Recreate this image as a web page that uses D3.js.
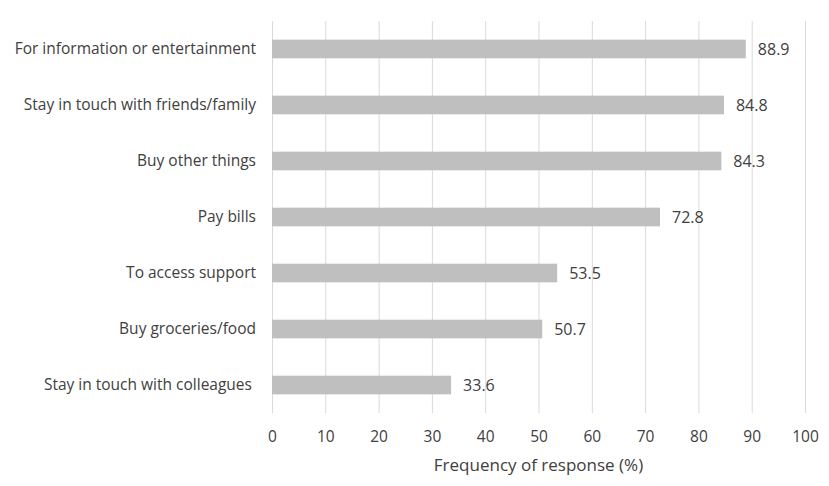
<!DOCTYPE html>
<html>
<head>
<meta charset="utf-8">
<script src="https://cdn.jsdelivr.net/npm/d3@7"></script>
<style>
  body { margin: 0; background: #fff; }
  text { font-family: "Open Sans", "Noto Sans", sans-serif; fill: #404040; white-space: pre; }
</style>
</head>
<body>
<svg id="chart" width="829" height="486"></svg>
<script>
'use strict';

const categories = [
  'For information or entertainment',
  'Stay in touch with friends/family',
  'Buy other things',
  'Pay bills',
  'To access support',
  'Buy groceries/food',
  'Stay in touch with colleagues ',
];
const values = [88.9, 84.8, 84.3, 72.8, 53.5, 50.7, 33.6];
const xTicks = [0, 10, 20, 30, 40, 50, 60, 70, 80, 90, 100];
const xTitle = 'Frequency of response (%)';

const margin = { top: 21, right: 24, bottom: 73, left: 272 };
const width = 829;
const height = 486;

const svg = d3.select('#chart');

const x = d3.scaleLinear()
  .domain([0, 100])
  .range([margin.left, width - margin.right]);

const y = d3.scaleBand()
  .domain(categories)
  .range([margin.top, height - margin.bottom])
  .paddingInner(0.667)
  .paddingOuter(0.333);

// vertical gridlines
svg.append('g')
  .selectAll('line')
  .data(xTicks)
  .join('line')
  .attr('x1', (d) => x(d) + 0.5)
  .attr('x2', (d) => x(d) + 0.5)
  .attr('y1', margin.top)
  .attr('y2', height - margin.bottom)
  .attr('stroke', '#d9d9d9')
  .attr('stroke-width', 1);

// bars
const data = categories.map((c, i) => ({ key: c, value: values[i] }));

svg.append('g')
  .selectAll('rect')
  .data(data)
  .join('rect')
  .attr('x', x(0))
  .attr('y', (d) => y(d.key))
  .attr('width', (d) => x(d.value) - x(0))
  .attr('height', y.bandwidth())
  .attr('fill', '#bfbfbf');

// value labels
svg.append('g')
  .selectAll('text')
  .data(data)
  .join('text')
  .attr('x', (d) => x(d.value) + 12)
  .attr('y', (d) => y(d.key) + y.bandwidth() / 2)
  .attr('dy', '0.35em')
  .attr('font-size', 16)
  .text((d) => d.value.toFixed(1));

// category labels
svg.append('g')
  .selectAll('text')
  .data(categories)
  .join('text')
  .attr('x', 256)
  .attr('y', (d) => y(d) + y.bandwidth() / 2)
  .attr('dy', '0.35em')
  .attr('text-anchor', 'end')
  .attr('font-size', 15.5)
  .text((d) => d);

// x axis tick labels
const xAxis = d3.axisBottom(x).tickValues(xTicks).tickSize(0).tickPadding(0);
const axisG = svg.append('g')
  .attr('transform', `translate(0,${height - margin.bottom})`)
  .call(xAxis);
axisG.select('.domain').remove();
axisG.selectAll('text')
  .attr('font-size', 15.5)
  .attr('font-family', null)
  .attr('fill', null)
  .attr('y', 24)
  .attr('dy', '0.35em');

// axis title
svg.append('text')
  .attr('x', (x(0) + x(100)) / 2)
  .attr('y', 465)
  .attr('dy', '0.35em')
  .attr('text-anchor', 'middle')
  .attr('font-size', 17)
  .text(xTitle);
</script>
</body>
</html>
